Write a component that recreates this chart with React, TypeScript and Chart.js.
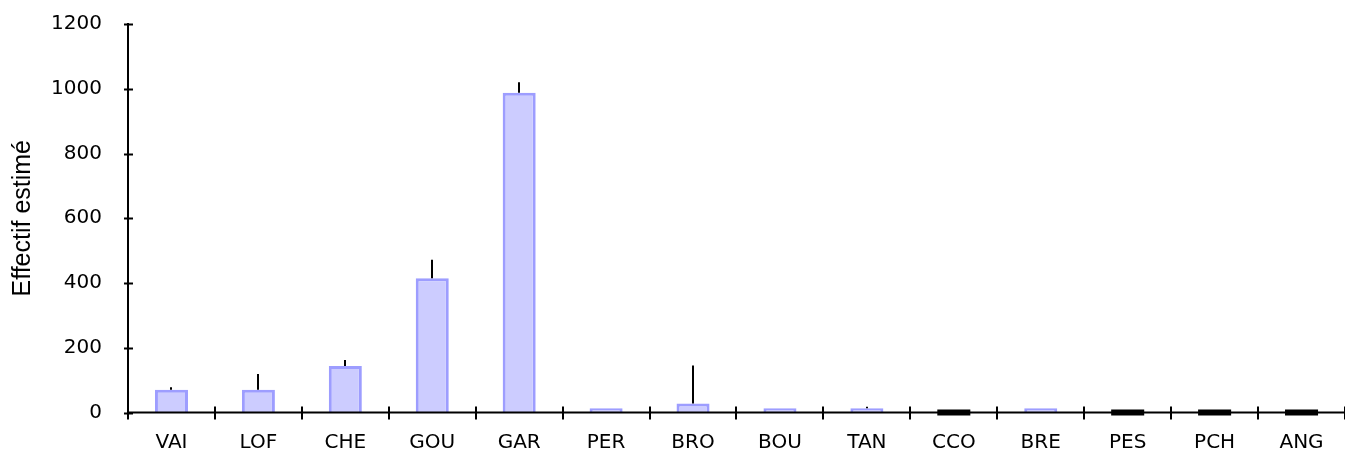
import React, { useEffect, useRef } from "react";
import { Chart, registerables } from "chart.js";

Chart.register(...registerables);

const categories = ["VAI", "LOF", "CHE", "GOU", "GAR", "PER", "BRO", "BOU", "TAN", "CCO", "BRE", "PES", "PCH", "ANG"];
const estimates = [70, 70, 144, 415, 988, 13, 28, 13, 13, 0, 13, 0, 0, 0];
const upperErrors = [8, 49, 18, 57, 32, 0, 117, 0, 5, 0, 0, 0, 0, 0];
const yTicks = [0, 200, 400, 600, 800, 1000, 1200];

const TICK_FONT = "'DejaVu Sans', 'Liberation Sans', sans-serif";
const TITLE_FONT = "'Liberation Sans', Arial, sans-serif";

const axisPlugin = {
  id: "axisDecor",
  afterDatasetsDraw(chart: any) {
    const { ctx, scales, chartArea } = chart;
    const x = scales.x;
    const y = scales.y;
    const y0 = y.getPixelForValue(0);
    ctx.save();
    ctx.strokeStyle = "#000";
    ctx.lineWidth = 2;
    estimates.forEach((v, i) => {
      const e = upperErrors[i];
      if (e > 0) {
        const px = Math.round(x.getPixelForValue(i));
        ctx.beginPath();
        ctx.moveTo(px, y.getPixelForValue(v));
        ctx.lineTo(px, y.getPixelForValue(v + e));
        ctx.stroke();
      }
    });
    ctx.fillStyle = "#000";
    const w = x.getPixelForValue(1) - x.getPixelForValue(0);
    const bw = w * 0.38;
    estimates.forEach((v, i) => {
      if (v === 0) {
        const px = x.getPixelForValue(i);
        ctx.fillRect(px - bw / 2, y0 - 3, bw, 6);
      }
    });
    ctx.lineWidth = 2;
    ctx.beginPath();
    ctx.moveTo(chartArea.left, chartArea.top - 1);
    ctx.lineTo(chartArea.left, y0);
    ctx.moveTo(chartArea.left - 1, y0);
    ctx.lineTo(chartArea.right, y0);
    ctx.stroke();
    yTicks.forEach((t) => {
      const py = Math.round(y.getPixelForValue(t)) + 0.5;
      ctx.beginPath();
      ctx.moveTo(chartArea.left - 4, py);
      ctx.lineTo(chartArea.left + 5, py);
      ctx.stroke();
    });
    for (let i = 0; i <= categories.length; i++) {
      const px = Math.round(chartArea.left + i * w);
      ctx.beginPath();
      ctx.moveTo(px, y0 - 6);
      ctx.lineTo(px, y0 + 7);
      ctx.stroke();
    }
    ctx.restore();
  },
};

export default function App() {
  const ref = useRef<HTMLCanvasElement | null>(null);
  useEffect(() => {
    if (!ref.current) return;
    const chart = new Chart(ref.current, {
      type: "bar",
      data: {
        labels: categories,
        datasets: [
          {
            data: estimates,
            backgroundColor: "#ccccff",
            borderColor: "#9d9dff",
            borderWidth: 3,
            barPercentage: 0.38,
            categoryPercentage: 1,
          },
        ],
      },
      options: {
        animation: false,
        responsive: true,
        maintainAspectRatio: false,
        layout: { padding: { top: 24, right: 0, bottom: 0, left: 0 } },
        plugins: { legend: { display: false }, tooltip: { enabled: false } },
        scales: {
          x: {
            grid: { display: false, tickLength: 0 },
            border: { display: false },
            ticks: { color: "#000", font: { family: TICK_FONT, size: 20 }, padding: 18, maxRotation: 0 },
            afterFit: (s: any) => {
              s.height = 39.5;
            },
          },
          y: {
            min: 0,
            max: 1200,
            afterBuildTicks: (s: any) => {
              s.ticks = yTicks.map((v) => ({ value: v }));
            },
            grid: { display: false, tickLength: 0 },
            border: { display: false },
            ticks: {
              color: "#000",
              font: { family: TICK_FONT, size: 20 },
              padding: 26,
              callback: (v: any) => String(v),
            },
            title: {
              display: true,
              text: "Effectif estimé",
              color: "#000",
              font: { family: TITLE_FONT, size: 25 },
              padding: { top: 8, bottom: 0 },
            },
            afterFit: (s: any) => {
              s.width = 128;
              s.paddingTop = 0;
              s.paddingBottom = 0;
            },
          },
        },
      },
      plugins: [axisPlugin],
    });
    return () => chart.destroy();
  }, []);
  return (
    <div style={{ position: "absolute", left: 0, top: 0, width: 1345, height: 452, background: "#fff" }}>
      <canvas ref={ref} />
    </div>
  );
}
